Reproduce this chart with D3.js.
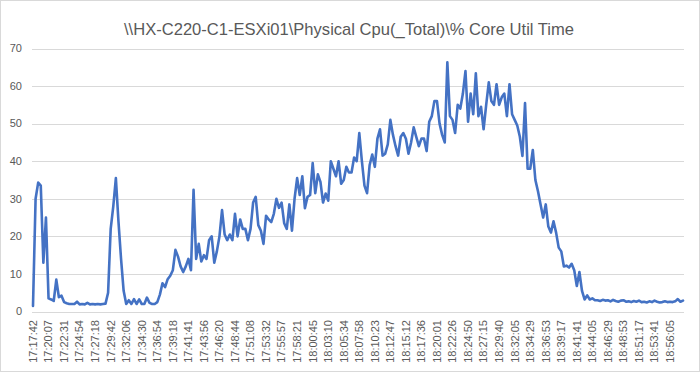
<!DOCTYPE html>
<html>
<head>
<meta charset="utf-8">
<script src="https://cdnjs.cloudflare.com/ajax/libs/d3/7.8.5/d3.min.js"></script>
<style>
  html, body { margin: 0; padding: 0; background: #fff; }
  svg text { font-family: "Liberation Sans", Arial, sans-serif; fill: #595959; }
</style>
</head>
<body>
<div id="chart"></div>
<script>
// chart title and axis labels (one label every few samples, as Excel showed them)
var title = '\\\\HX-C220-C1-ESXi01\\Physical Cpu(_Total)\\% Core Util Time';

var tickLabels = [
    '17:17:42', '17:20:07', '17:22:31', '17:24:54', '17:27:18', '17:29:42', '17:32:06',
    '17:34:30', '17:36:54', '17:39:18', '17:41:41', '17:43:56', '17:46:20', '17:48:44',
    '17:51:08', '17:53:32', '17:55:57', '17:58:21', '18:00:45', '18:03:10', '18:05:34',
    '18:07:58', '18:10:23', '18:12:47', '18:15:12', '18:17:36', '18:20:01', '18:22:26',
    '18:24:50', '18:27:15', '18:29:40', '18:32:05', '18:34:29', '18:36:53', '18:39:17',
    '18:41:41', '18:44:05', '18:46:29', '18:48:53', '18:51:17', '18:53:41', '18:56:05'
];
var samplesPerLabel = 6;

var yTicks = [0, 10, 20, 30, 40, 50, 60, 70];

// % core util time, one value per sample
var cpuValues = [
    1.5, 30, 34.3, 33.5, 13, 25, 3.5, 3.2, 2.8, 8.5, 3.8, 4.2,
    2.5, 2.2, 2, 2, 2, 2.6, 1.9, 2, 1.9, 2.3, 1.9, 2,
    1.9, 2, 1.9, 2, 2.1, 5, 22, 28, 35.5, 24, 14, 5.5,
    2, 3, 2, 3.3, 2, 3.2, 2, 2, 3.7, 2.3, 2, 2,
    2.5, 4.5, 7.5, 6.5, 8.6, 9.5, 11, 16.4, 14.6, 12, 10.5, 12,
    14, 11, 32.4, 14, 18, 13.3, 15, 14, 19, 20, 13, 16,
    20, 27, 20.5, 19, 20.5, 19, 26, 20, 24.5, 22, 22, 19,
    22, 29, 30.5, 23, 21.5, 18, 25.5, 24.5, 23.8, 26, 30, 27.6,
    29, 23.5, 22, 28.5, 21.5, 30, 35.5, 31, 36, 27.5, 30.5, 31,
    39.5, 31.5, 36.5, 34.5, 29, 31.4, 29.5, 40, 38, 36, 40, 34,
    35, 38.5, 37, 37, 41, 40, 47.5, 40, 33.5, 31.5, 39, 41.8,
    38.5, 46, 48.5, 41.5, 42, 44.5, 51, 47, 44, 41.5, 46.5, 47.5,
    46, 42, 45, 49, 46.5, 44, 46, 46, 42.7, 50.5, 52, 56,
    56, 50, 47, 45, 66.3, 52, 51, 47.5, 55, 54, 58, 64,
    50.5, 58, 52.5, 63.4, 52, 54.5, 48.5, 55, 61, 56, 55, 60.5,
    55, 57, 58, 52, 60.5, 52.5, 51, 49.5, 46.5, 41.4, 55.5, 38,
    38, 43, 35, 32, 28.5, 25, 28.5, 22.6, 21, 24, 21, 17,
    16, 12, 12.2, 11.7, 12.7, 11, 6.8, 10.5, 5.5, 3.2, 4.3, 3.2,
    3.5, 3, 3, 2.8, 3.1, 2.9, 3.0, 2.7, 3.1, 2.8, 2.6, 2.9,
    3.0, 2.6, 2.7, 2.5, 2.8, 2.6, 2.9, 2.5, 2.6, 2.4, 2.7, 2.5,
    2.9, 2.6, 2.4, 2.5, 2.7, 2.5, 2.6, 2.5, 2.7, 3.3, 2.6, 2.9
];

var width = 700;
var height = 372;
var plotLeft = 33, plotRight = 683, plotTop = 48.5, plotBottom = 311.5;

var svg = d3.select('#chart').append('svg').attr('width', width).attr('height', height);

// light outer frame
svg.append('rect').attr('x', 0.5).attr('y', 0.5).attr('width', width - 1).attr('height', height - 1)
    .attr('fill', '#fff').attr('stroke', '#d9d9d9');

var x = d3.scaleLinear().domain([0, cpuValues.length - 1]).range([plotLeft, plotRight]);
var y = d3.scaleLinear().domain([0, 70]).range([plotBottom, plotTop]);

// horizontal gridlines
svg.append('g').selectAll('line.grid').data(yTicks).enter().append('line').attr('class', 'grid')
    .attr('x1', plotLeft - 1).attr('x2', plotRight + 1)
    .attr('y1', function(d) { return Math.round(y(d)) + 0.5; })
    .attr('y2', function(d) { return Math.round(y(d)) + 0.5; })
    .attr('stroke', '#d9d9d9').attr('stroke-width', 1);

// y axis labels
svg.append('g').selectAll('text.ylab').data(yTicks).enter().append('text').attr('class', 'ylab')
    .attr('x', 22).attr('y', function(d) { return y(d); }).attr('dy', '0.35em')
    .style('text-anchor', 'end').style('font-size', '11px')
    .text(function(d) { return d; });

// x axis labels, rotated
svg.append('g').selectAll('text.xlab').data(tickLabels).enter().append('text').attr('class', 'xlab')
    .attr('transform', function(d, i) {
        return 'translate(' + x(i * samplesPerLabel) + ',320) rotate(-90)';
    })
    .attr('dy', '0.35em').style('text-anchor', 'end').style('font-size', '11px')
    .text(function(d) { return d; });

// the series
var line = d3.line().x(function(d, i) { return x(i); }).y(function(d) { return y(d); });
svg.append('path').datum(cpuValues).attr('d', line)
    .attr('fill', 'none').attr('stroke', '#4472c4').attr('stroke-width', 2.6)
    .attr('stroke-linejoin', 'round').attr('stroke-linecap', 'round');

// title
svg.append('text').attr('x', 349).attr('y', 35).style('text-anchor', 'middle')
    .style('font-size', '17px').attr('textLength', 450).attr('lengthAdjust', 'spacingAndGlyphs')
    .text(title);
</script>
</body>
</html>
